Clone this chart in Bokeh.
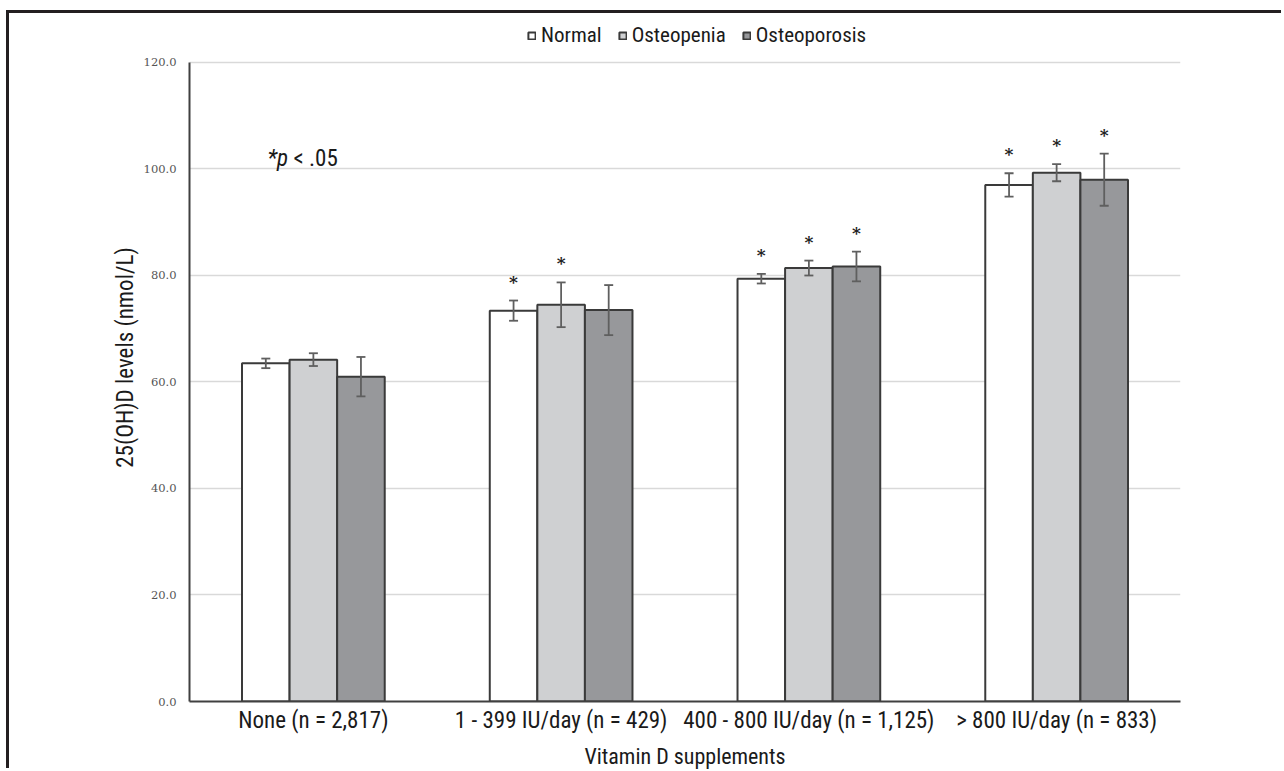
from bokeh.plotting import figure
from bokeh.models import (ColumnDataSource, FactorRange, FixedTicker, PrintfTickFormatter,
                          Whisker, TeeHead, Legend, LegendItem, Label)
from bokeh.transform import dodge
from bokeh.core.properties import value
from bokeh.embed import file_html
from bokeh.resources import INLINE

categories = ["None (n = 2,817)", "1 - 399 IU/day (n = 429)",
              "400 - 800 IU/day (n = 1,125)", "> 800 IU/day (n = 833)"]
series = ["Normal", "Osteopenia", "Osteoporosis"]
normal = [63.5, 73.4, 79.4, 97.0]
osteopenia = [64.2, 74.5, 81.4, 99.3]
osteoporosis = [61.0, 73.5, 81.7, 98.0]
normal_err = [0.9, 1.9, 0.9, 2.2]
osteopenia_err = [1.2, 4.2, 1.4, 1.6]
osteoporosis_err = [3.7, 4.7, 2.8, 4.9]
normal_sig = [False, True, True, True]
osteopenia_sig = [False, True, True, True]
osteoporosis_sig = [False, False, True, True]
y_ticks = [0, 20, 40, 60, 80, 100, 120]

fills = ["#ffffff", "#cfd0d2", "#97989b"]
offsets = [-0.192, 0.0, 0.192]
bar_w = 0.192

FONT = "'Liberation Sans Narrow', 'Arial Narrow', 'Roboto Condensed', sans-serif"
SERIF = "DejaVu Serif"

W, H = 1275, 758
# the frame reaches up to the top edge so the legend can sit above the 120 line
p = figure(x_range=FactorRange(*categories, range_padding=0), y_range=(0, 129.2),
           width=W, height=H, output_backend="svg", toolbar_location=None,
           min_border_left=180, min_border_right=104, min_border_top=0, min_border_bottom=70)
p.outline_line_color = None
p.background_fill_color = "white"
p.border_fill_color = "white"
# picture frame: dark line along the top and left edges
p.styles = {"margin-left": "9px", "margin-top": "13px",
            "box-shadow": "-3px -3px 0px 0px #231f20"}

vals = [normal, osteopenia, osteoporosis]
errs = [normal_err, osteopenia_err, osteoporosis_err]
sigs = [normal_sig, osteopenia_sig, osteoporosis_sig]
renderers = []
for i, name in enumerate(series):
    src = ColumnDataSource(dict(
        cat=categories, val=vals[i],
        upper=[v + e for v, e in zip(vals[i], errs[i])],
        lower=[v - e for v, e in zip(vals[i], errs[i])],
    ))
    r = p.vbar(x=dodge("cat", offsets[i], range=p.x_range), top="val", width=bar_w,
               source=src, fill_color=fills[i], line_color="#3a3a3a", line_width=2)
    renderers.append(r)
    w = Whisker(base=dodge("cat", offsets[i], range=p.x_range), upper="upper", lower="lower",
                source=src, line_color="#5f5f5f", line_width=1.8, level="annotation",
                upper_head=TeeHead(size=9, line_color="#5f5f5f", line_width=1.8),
                lower_head=TeeHead(size=9, line_color="#5f5f5f", line_width=1.8))
    p.add_layout(w)
    sc = [c for c, s in zip(categories, sigs[i]) if s]
    su = [v + e for v, e, s in zip(vals[i], errs[i], sigs[i]) if s]
    ssrc = ColumnDataSource(dict(cat=sc, y=su, t=["*"] * len(sc)))
    p.text(x=dodge("cat", offsets[i], range=p.x_range), y="y", text="t", source=ssrc,
           text_font=value(SERIF), text_font_size="17px", text_color="#222222",
           text_font_style="bold", text_align="center", text_baseline="middle", y_offset=-19)

# axes
p.yaxis.ticker = FixedTicker(ticks=y_ticks)
p.yaxis.bounds = (0, 120)
p.yaxis.formatter = PrintfTickFormatter(format="%.1f")
p.yaxis.major_label_text_font = SERIF
p.yaxis.major_label_text_font_size = "11.5px"
p.yaxis.major_label_text_color = "#555555"
p.yaxis.major_label_standoff = 7
p.yaxis.major_tick_line_color = None
p.yaxis.minor_tick_line_color = None
p.yaxis.axis_line_color = "#404040"
p.yaxis.axis_line_width = 2
p.yaxis.axis_label = "25(OH)D levels (nmol/L)"
p.yaxis.axis_label_text_font = FONT
p.yaxis.axis_label_text_font_size = "23px"
p.yaxis.axis_label_text_font_style = "normal"
p.yaxis.axis_label_text_color = "#1a1a1a"
p.yaxis.axis_label_standoff = 2

p.xaxis.major_label_text_font = FONT
p.xaxis.major_label_text_font_size = "23px"
p.xaxis.major_label_text_color = "#1a1a1a"
p.xaxis.major_label_standoff = 5
p.xaxis.major_label_text_line_height = 1.0
p.xaxis.major_tick_line_color = None
p.xaxis.minor_tick_line_color = None
p.xaxis.major_tick_out = 0
p.xaxis.axis_line_color = "#404040"
p.xaxis.axis_line_width = 2
p.xaxis.axis_label = "Vitamin D supplements"
p.xaxis.axis_label_text_font = FONT
p.xaxis.axis_label_text_font_size = "22px"
p.xaxis.axis_label_text_font_style = "normal"
p.xaxis.axis_label_text_color = "#1a1a1a"
p.xaxis.axis_label_text_line_height = 1.0
p.xaxis.axis_label_standoff = 7

p.xgrid.grid_line_color = None
p.ygrid.grid_line_color = "#d9d9d9"
p.ygrid.grid_line_width = 1.5

legend = Legend(items=[LegendItem(label=s, renderers=[r]) for s, r in zip(series, renderers)],
                orientation="horizontal", location=(338, 654),
                glyph_width=9, glyph_height=9, label_standoff=5, spacing=16,
                padding=0, margin=0, border_line_color=None, background_fill_alpha=0,
                label_text_font=FONT, label_text_font_size="21px", label_text_color="#1a1a1a")
p.add_layout(legend, "center")

p.add_layout(Label(x=78, y=102, x_units="screen", text="*p", text_font=FONT,
                   text_font_size="23px", text_font_style="italic", text_color="#1a1a1a",
                   text_baseline="middle"))
p.add_layout(Label(x=104, y=102, x_units="screen", text="< .05", text_font=FONT,
                   text_font_size="23px", text_color="#1a1a1a", text_baseline="middle"))

open("out.html", "w").write(file_html(p, INLINE))
